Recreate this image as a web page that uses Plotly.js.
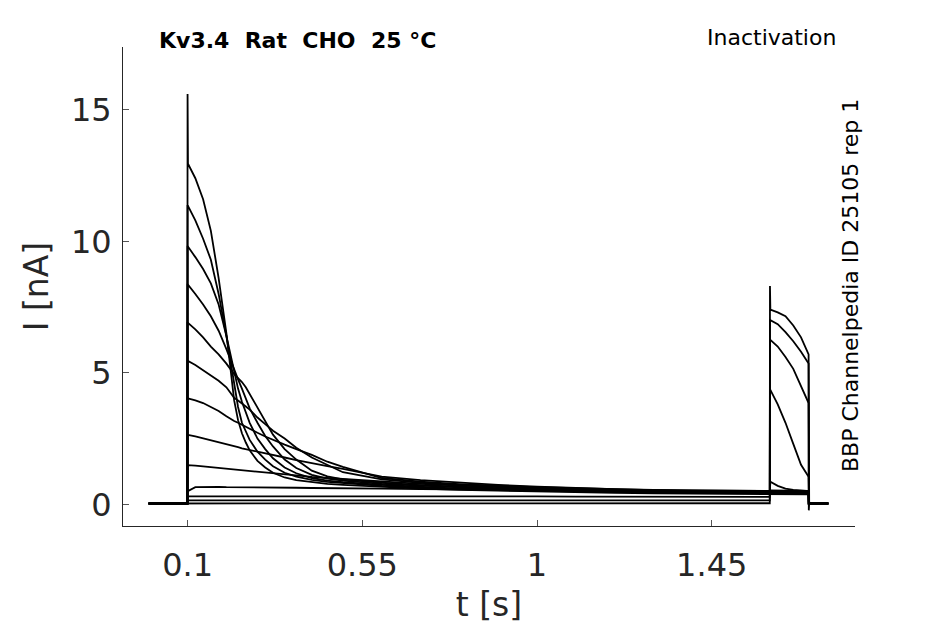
<!DOCTYPE html>
<html>
<head>
<meta charset="utf-8">
<script src="https://cdn.plot.ly/plotly-3.0.1.min.js"></script>
<style>
  html, body { margin: 0; padding: 0; background: #fff; }
  #chart { width: 945px; height: 624px; }
</style>
</head>
<body>
<div id="chart"></div>
<script>
// sample times [s]
const tSamples = [0, 0.0995, 0.1, 0.101, 0.12, 0.14, 0.16, 0.18, 0.2, 0.21, 0.22, 0.23, 0.24, 0.25, 0.26,
  0.28, 0.3, 0.32, 0.35, 0.38, 0.42, 0.46, 0.5, 0.6, 0.7, 0.8, 0.9, 1.0, 1.1, 1.2, 1.3, 1.4, 1.5,
  1.5995, 1.6, 1.601, 1.62, 1.64, 1.66, 1.68, 1.6995, 1.7, 1.701, 1.75];

// current [nA], one sweep per array
const sweep01 = [0.03, 0.03, 15.6, 12.95, 12.4, 11.6, 10.4, 8.6, 6.5, 5.1, 3.95, 3.2, 2.7, 2.35, 2.05,
  1.65, 1.4, 1.2, 1.02, 0.92, 0.84, 0.78, 0.74, 0.66, 0.6, 0.55, 0.52, 0.48, 0.46, 0.44, 0.42, 0.41, 0.4,
  0.38, 0.4, 0.4, 0.4, 0.39, 0.39, 0.38, 0.38, 0.03, 0.03, 0.03];
const sweep02 = [0.03, 0.03, 11.35, 11.35, 10.8, 10.1, 9.3, 8.0, 6.4, 5.5, 4.5, 3.7, 3.1, 2.75, 2.45,
  2.0, 1.7, 1.45, 1.2, 1.05, 0.93, 0.85, 0.8, 0.7, 0.63, 0.58, 0.54, 0.51, 0.49, 0.47, 0.45, 0.44, 0.43,
  0.42, 0.43, 0.43, 0.43, 0.42, 0.42, 0.41, 0.41, 0.03, 0.03, 0.03];
const sweep03 = [0.03, 0.03, 9.8, 9.8, 9.4, 8.95, 8.4, 7.6, 6.4, 5.7, 5.0, 4.4, 3.9, 3.5, 3.1,
  2.5, 2.1, 1.75, 1.4, 1.18, 1.0, 0.9, 0.84, 0.74, 0.66, 0.6, 0.56, 0.53, 0.5, 0.48, 0.46, 0.45, 0.44,
  0.43, 0.45, 0.45, 0.45, 0.44, 0.44, 0.43, 0.43, 0.03, 0.03, 0.03];
const sweep04 = [0.03, 0.03, 8.35, 8.35, 8.0, 7.6, 7.15, 6.6, 5.9, 5.5, 5.1, 4.75, 4.4, 4.0, 3.65,
  3.1, 2.6, 2.2, 1.7, 1.38, 1.12, 0.98, 0.9, 0.78, 0.7, 0.64, 0.59, 0.55, 0.52, 0.5, 0.48, 0.47, 0.46,
  0.45, 0.47, 0.47, 0.47, 0.46, 0.46, 0.45, 0.45, 0.03, 0.03, 0.03];
const sweep05 = [0.03, 0.03, 6.9, 6.9, 6.65, 6.35, 6.0, 5.7, 5.35, 5.15, 4.95, 4.8, 4.65, 4.45, 4.2,
  3.65, 3.15, 2.65, 2.1, 1.7, 1.28, 1.06, 0.95, 0.82, 0.73, 0.66, 0.61, 0.57, 0.54, 0.52, 0.5, 0.49, 0.48,
  0.47, 0.49, 0.49, 0.49, 0.48, 0.48, 0.47, 0.47, 0.03, 0.03, 0.03];
const sweep06 = [0.03, 0.03, 5.45, 5.45, 5.3, 5.1, 4.9, 4.7, 4.45, 4.25, 4.05, 3.95, 3.85, 3.72, 3.6,
  3.3, 3.05, 2.8, 2.5, 2.15, 1.78, 1.5, 1.22, 0.95, 0.82, 0.74, 0.67, 0.62, 0.58, 0.55, 0.52, 0.5, 0.49,
  0.48, 0.5, 0.5, 0.5, 0.49, 0.49, 0.48, 0.48, 0.03, 0.03, 0.03];
const sweep07 = [0.03, 0.03, 4.03, 4.03, 3.95, 3.85, 3.7, 3.55, 3.35, 3.25, 3.17, 3.1, 3.02, 2.95, 2.88,
  2.72, 2.58, 2.45, 2.27, 2.1, 1.88, 1.62, 1.42, 1.0, 0.86, 0.77, 0.7, 0.65, 0.61, 0.57, 0.54, 0.52, 0.51,
  0.5, 0.52, 0.52, 0.52, 0.51, 0.51, 0.5, 0.5, 0.03, 0.03, 0.03];
const sweep08 = [0.03, 0.03, 2.64, 2.64, 2.58, 2.5, 2.42, 2.35, 2.28, 2.24, 2.2, 2.17, 2.13, 2.1, 2.06,
  2.0, 1.93, 1.87, 1.78, 1.68, 1.56, 1.45, 1.35, 1.05, 0.92, 0.82, 0.74, 0.67, 0.62, 0.58, 0.55, 0.53, 0.52,
  0.51, 0.53, 0.53, 0.53, 0.52, 0.52, 0.51, 0.51, 0.03, 0.03, 0.03];
const sweep09 = [0.03, 0.03, 1.49, 1.49, 1.47, 1.44, 1.41, 1.38, 1.35, 1.34, 1.32, 1.31, 1.29, 1.28, 1.26,
  1.23, 1.2, 1.17, 1.13, 1.09, 1.04, 1.0, 0.96, 0.86, 0.78, 0.71, 0.65, 0.6, 0.56, 0.53, 0.5, 0.48, 0.46,
  0.45, 0.86, 0.86, 0.7, 0.6, 0.55, 0.52, 0.5, 0.03, 0.03, 0.03];
const sweep10 = [0.03, 0.03, 0.5, 0.5, 0.65, 0.66, 0.66, 0.66, 0.65, 0.65, 0.65, 0.65, 0.65, 0.65, 0.65,
  0.64, 0.64, 0.64, 0.63, 0.63, 0.62, 0.62, 0.62, 0.6, 0.58, 0.57, 0.55, 0.53, 0.52, 0.5, 0.49, 0.47, 0.46,
  0.45, 4.35, 4.35, 3.8, 3.1, 2.3, 1.5, 1.05, 0.03, 0.03, 0.03];
const sweep11 = [0.03, 0.03, 0.3, 0.3, 0.32, 0.32, 0.32, 0.32, 0.32, 0.32, 0.32, 0.32, 0.32, 0.32, 0.32,
  0.32, 0.32, 0.32, 0.32, 0.31, 0.31, 0.31, 0.31, 0.31, 0.3, 0.3, 0.3, 0.3, 0.29, 0.29, 0.29, 0.29, 0.28,
  0.28, 6.25, 6.25, 6.0, 5.6, 5.15, 4.5, 3.85, 0.03, 0.03, 0.03];
const sweep12 = [0.03, 0.03, 0.15, 0.15, 0.16, 0.16, 0.16, 0.16, 0.16, 0.16, 0.16, 0.16, 0.16, 0.16, 0.16,
  0.16, 0.16, 0.16, 0.16, 0.16, 0.16, 0.16, 0.16, 0.16, 0.16, 0.15, 0.15, 0.15, 0.15, 0.15, 0.15, 0.15, 0.15,
  0.15, 7.0, 7.0, 6.85, 6.55, 6.2, 5.8, 5.35, 0.03, 0.03, 0.03];
const sweep13 = [0.03, 0.03, 0.03, 0.03, 0.04, 0.04, 0.04, 0.04, 0.04, 0.04, 0.04, 0.04, 0.04, 0.04, 0.04,
  0.04, 0.04, 0.04, 0.04, 0.04, 0.04, 0.04, 0.04, 0.04, 0.04, 0.04, 0.04, 0.04, 0.04, 0.04, 0.04, 0.04, 0.04,
  0.04, 8.3, 7.4, 7.3, 7.15, 6.8, 6.35, 5.7, -0.23, 0.03, 0.03];

const sweeps = [sweep01, sweep02, sweep03, sweep04, sweep05, sweep06, sweep07,
  sweep08, sweep09, sweep10, sweep11, sweep12, sweep13];

const xTicks = [0.1, 0.55, 1, 1.45];
const xTickText = ['0.1', '0.55', '1', '1.45'];
const yTicks = [0, 5, 10, 15];

const FONT = 'DejaVu Sans, sans-serif';
const AXIS_GREY = '#262626';

const data = sweeps.map(s => ({
  x: tSamples,
  y: s,
  type: 'scatter',
  mode: 'lines',
  line: { color: '#000', width: 1.8 },
  hoverinfo: 'skip',
}));

const layout = {
  width: 945,
  height: 624,
  margin: { l: 123, r: 90, t: 47, b: 98 },
  paper_bgcolor: '#fff',
  plot_bgcolor: '#fff',
  showlegend: false,
  font: { family: FONT, color: AXIS_GREY },
  xaxis: {
    range: [-0.0663, 1.819],
    tickvals: xTicks,
    ticktext: xTickText,
    ticks: 'inside',
    ticklen: 6,
    tickcolor: '#555',
    ticklabelstandoff: 11,
    showline: true,
    linecolor: AXIS_GREY,
    linewidth: 1,
    showgrid: false,
    zeroline: false,
    tickfont: { family: FONT, size: 32, color: AXIS_GREY },
    title: { text: 't [s]', font: { family: FONT, size: 33, color: AXIS_GREY }, standoff: 10 },
    automargin: false,
  },
  yaxis: {
    range: [-0.825, 17.39],
    tickvals: yTicks,
    ticks: 'inside',
    ticklen: 6,
    tickcolor: '#555',
    ticklabelstandoff: 4,
    showline: true,
    linecolor: AXIS_GREY,
    linewidth: 1,
    showgrid: false,
    zeroline: false,
    tickfont: { family: FONT, size: 32, color: AXIS_GREY },
    title: { text: 'I [nA]', font: { family: FONT, size: 33, color: AXIS_GREY }, standoff: 12 },
    automargin: false,
  },
  annotations: [
    {
      text: '<b>Kv3.4  Rat  CHO  25 °C</b>',
      xref: 'paper', yref: 'paper', x: 0.046, y: 1.0146,
      xanchor: 'left', yanchor: 'middle', showarrow: false,
      font: { family: FONT, size: 22, color: '#000' },
    },
    {
      text: 'Inactivation',
      xref: 'paper', yref: 'paper', x: 0.977, y: 1.019,
      xanchor: 'right', yanchor: 'middle', showarrow: false,
      font: { family: FONT, size: 22, color: '#000' },
    },
    {
      text: 'BBP Channelpedia ID 25105 rep 1',
      xref: 'paper', yref: 'paper', x: 0.9932, y: 0.501,
      xanchor: 'center', yanchor: 'middle', showarrow: false, textangle: -90,
      font: { family: FONT, size: 22, color: '#000' },
    },
  ],
};

Plotly.newPlot('chart', data, layout, { staticPlot: true, displayModeBar: false });
</script>
</body>
</html>
